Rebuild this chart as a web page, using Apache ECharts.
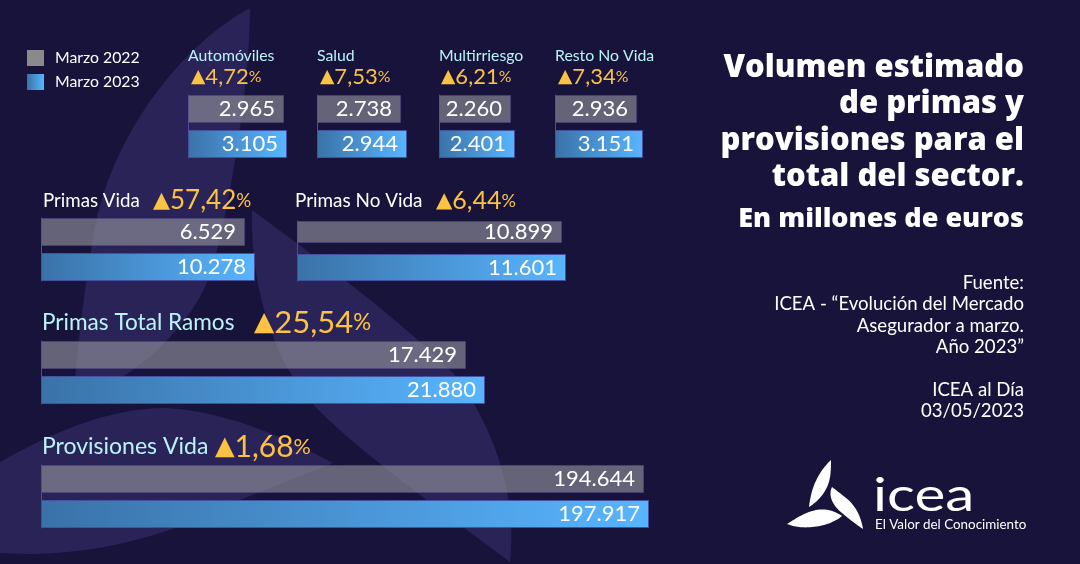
<!DOCTYPE html>
<html>
<head>
<meta charset="utf-8">
<title>Volumen estimado de primas y provisiones</title>
<script src="https://cdn.jsdelivr.net/npm/echarts@6/dist/echarts.min.js"></script>
<style>
html, body { margin: 0; padding: 0; background: #18133a; }
#main { width: 1080px; height: 564px; }
</style>
</head>
<body>
<div id="main"></div>
<script>
// data
const categories = ['Automóviles', 'Salud', 'Multirriesgo', 'Resto No Vida', 'Primas Vida', 'Primas No Vida', 'Primas Total Ramos', 'Provisiones Vida'];
const marzo2022 = [2965, 2738, 2260, 2936, 6529, 10899, 17429, 194644];
const marzo2023 = [3105, 2944, 2401, 3151, 10278, 11601, 21880, 197917];
const variacion = ['4,72', '7,53', '6,21', '7,34', '57,42', '6,44', '25,54', '1,68'];
const seriesNames = ['Marzo 2022', 'Marzo 2023'];

const titleLines = ['Volumen estimado', 'de primas y', 'provisiones para el', 'total del sector.'];
const subtitle = 'En millones de euros';
const sourceLines = ['Fuente:', 'ICEA - “Evolución del Mercado', 'Asegurador a marzo.', 'Año 2023”', '', 'ICEA al Día', '03/05/2023'];

// the source bars are not drawn from zero, every panel has its own axis start
const axisStart = [-1515, -146, -278, 0, -69951, -35609, -82129, -200080];

// panel placement: grid box, bar heights, header text
const panels = [
    { left: 188, top: 95, width: 99, height: 63, bars: [28, 28], gap: 7, nameX: 188, nameY: 56, nameSize: 15.8, nameColor: '#b9f4fa', upX: 191, upY: 77, upSize: 22 },
    { left: 317, top: 95, width: 90, height: 63, bars: [28, 28], gap: 7, nameX: 317, nameY: 56, nameSize: 15.8, nameColor: '#b9f4fa', upX: 320, upY: 77, upSize: 22 },
    { left: 439, top: 95, width: 76, height: 63, bars: [28, 28], gap: 7, nameX: 439, nameY: 56, nameSize: 15.8, nameColor: '#b9f4fa', upX: 441, upY: 77, upSize: 22 },
    { left: 555, top: 95, width: 88, height: 63, bars: [28, 28], gap: 7, nameX: 555, nameY: 56, nameSize: 15.8, nameColor: '#b9f4fa', upX: 558, upY: 77, upSize: 22 },
    { left: 41, top: 218, width: 214, height: 63, bars: [28, 28], gap: 7, nameX: 43, nameY: 201, nameSize: 18.7, nameColor: '#ffffff', upX: 153, upY: 201, upSize: 26 },
    { left: 297, top: 221, width: 269, height: 60, bars: [22, 27], gap: 11, nameX: 295, nameY: 201, nameSize: 18.9, nameColor: '#ffffff', upX: 436, upY: 201, upSize: 25 },
    { left: 41, top: 341, width: 444, height: 63, bars: [28, 28], gap: 7, nameX: 42, nameY: 323, nameSize: 22.6, nameColor: '#b9f4fa', upX: 254, upY: 323, upSize: 31 },
    { left: 41, top: 465, width: 608, height: 63, bars: [28, 28], gap: 7, nameX: 42, nameY: 447, nameSize: 23, nameColor: '#b9f4fa', upX: 215, upY: 447, upSize: 30 }
];

const FONT = 'Lato';
const GRAY = 'rgba(154,154,160,0.6)';
const BLUE = {
    type: 'linear', x: 0, y: 0, x2: 1, y2: 0,
    colorStops: [{ offset: 0, color: '#3a72a8' }, { offset: 1, color: '#58b5ff' }]
};

// 17429 -> 17.429
function miles(v) {
    return String(v).replace(/\B(?=(\d{3})+$)/g, '.');
}

// plain bars always start at value 0, these start at the panel's axis min
function barRenderer(i, k) {
    const p = panels[i];
    return function (params, api) {
        const end = api.coord([api.value(0), 0]);
        const start = api.coord([axisStart[i], 0]);
        const total = p.bars[0] + p.gap + p.bars[1];
        const y = end[1] - total / 2 + (k ? p.bars[0] + p.gap : 0);
        return {
            type: 'group',
            children: [{
                type: 'rect',
                shape: { x: Math.round(start[0]) + 0.5, y: Math.round(y) + 0.5, width: Math.round(end[0] - start[0]) - 1, height: p.bars[k] - 1 },
                style: {
                    fill: k ? BLUE : GRAY,
                    stroke: k ? '#4550a0' : 'rgba(80,70,130,0.6)',
                    lineWidth: 1
                }
            }, {
                type: 'text',
                x: end[0] - 9, y: y + p.bars[k] / 2,
                style: {
                    text: miles(api.value(0)), fill: '#ffffff', align: 'right', verticalAlign: 'middle',
                    font: '22px ' + FONT
                }
            }]
        };
    };
}

const grids = [], xAxes = [], yAxes = [], series = [];
panels.forEach(function (p, i) {
    grids.push({ left: p.left, top: p.top, width: p.width, height: p.height, containLabel: false });
    xAxes.push({ gridIndex: i, type: 'value', show: false, min: axisStart[i], max: marzo2023[i] });
    yAxes.push({
        gridIndex: i, type: 'category', inverse: true, data: [categories[i]],
        axisLine: { show: true, onZero: false, lineStyle: { color: '#5a45a0', width: 1 } },
        axisTick: { show: false }, axisLabel: { show: false }, splitLine: { show: false }
    });
    [marzo2022, marzo2023].forEach(function (values, k) {
        series.push({
            name: seriesNames[k], type: 'custom', xAxisIndex: i, yAxisIndex: i,
            data: [[values[i], categories[i]]], encode: { x: 0, y: 1 },
            renderItem: barRenderer(i, k), silent: true, animation: false, clip: false
        });
    });
});

// background petals, outlines as M + cubic segments
const petals = [
    [250, 8, 190, 40, 120, 120, 97, 217, 85, 280, 78, 340, 73, 403, 130, 380, 185, 335, 208, 280, 225, 235, 250, 90, 250, 8],
    [252, 210, 250, 280, 270, 355, 312, 403, 350, 445, 440, 510, 510, 562, 518, 490, 490, 420, 453, 373, 400, 320, 320, 260, 252, 210],
    [-30, 480, 50, 430, 110, 408, 167, 408, 230, 412, 290, 440, 333, 463, 290, 480, 260, 492, 240, 500, 170, 535, 80, 565, -30, 550]
];
// logo petals
const logo = [
    [831, 460, 818, 472, 811, 488, 809, 507, 820, 500, 828, 490, 830, 477, 831, 471, 831, 465, 831, 460],
    [832, 487, 828, 495, 832, 505, 842, 513, 849, 519, 857, 525, 863, 529, 861, 516, 855, 505, 846, 498, 841, 494, 836, 490, 832, 487],
    [787, 524, 798, 517, 806, 512, 816, 510, 826, 508, 835, 511, 842, 516, 835, 522, 824, 526, 812, 527, 803, 528, 795, 527, 787, 524]
];

// graphic has no path element, so the outlines go in as polygons
function outline(c) {
    const pts = [[c[0], c[1]]];
    for (let i = 2; i + 5 < c.length; i += 6) {
        for (let s = 1; s <= 16; s++) {
            const t = s / 16, u = 1 - t;
            pts.push([
                u * u * u * c[i - 2] + 3 * u * u * t * c[i] + 3 * u * t * t * c[i + 2] + t * t * t * c[i + 4],
                u * u * u * c[i - 1] + 3 * u * u * t * c[i + 1] + 3 * u * t * t * c[i + 3] + t * t * t * c[i + 5]
            ]);
        }
    }
    return pts;
}

const graphic = [];
petals.forEach(function (c) {
    graphic.push({ type: 'polygon', z: 0, silent: true, shape: { points: outline(c) }, style: { fill: '#2a2358' } });
});
logo.forEach(function (c) {
    graphic.push({ type: 'polygon', z: 10, silent: true, shape: { points: outline(c) }, style: { fill: '#ffffff' } });
});

function addText(x, y, text, size, color, align, weight, family, rich, scaleX) {
    graphic.push({
        type: 'text', z: 10, silent: true, x: x, y: y, scaleX: scaleX || 1,
        style: {
            text: text, fill: color, align: align || 'left', verticalAlign: 'middle',
            font: (weight || 'normal') + ' ' + size + 'px ' + (family || FONT), rich: rich
        }
    });
}

// panel headers
panels.forEach(function (p, i) {
    addText(p.nameX, p.nameY, categories[i], p.nameSize, p.nameColor);
    addText(p.upX, p.upY, '{t|▲}{n|' + variacion[i] + '}{p|%}', p.upSize, '#fcc243', 'left', 'normal', FONT, {
        t: { fontFamily: 'DejaVu Sans', fontSize: p.upSize * 0.85, fill: '#fcc243', color: '#fcc243' },
        n: { fontFamily: FONT, fontSize: p.upSize, fill: '#fcc243', color: '#fcc243' },
        p: { fontFamily: FONT, fontSize: p.upSize * 0.72, fill: '#fcc243', color: '#fcc243' }
    });
});

// right column
titleLines.forEach(function (line, i) {
    addText(1024, 68 + i * 36.4, line, 31, '#ffffff', 'right', '800', 'Open Sans');
});
addText(1024, 219, subtitle, 27, '#ffffff', 'right', '800', 'Open Sans');
sourceLines.forEach(function (line, i) {
    addText(1024, 283 + i * 21.3, line, 18.6, '#ffffff', 'right');
});
addText(873, 496, 'icea', 46, '#ffffff', 'left', 'normal', FONT, undefined, 1.27);
addText(875, 525, 'El Valor del Conocimiento', 13.4, '#ffffff');

const chart = echarts.init(document.getElementById('main'), null, { renderer: 'canvas' });
chart.setOption({
    animation: false,
    backgroundColor: '#18133a',
    legend: {
        left: 22, top: 45, orient: 'vertical', icon: 'rect', itemWidth: 17, itemHeight: 16, itemGap: 8, selectedMode: false,
        data: [
            { name: seriesNames[0], itemStyle: { color: '#8a8a8c', borderWidth: 0 } },
            { name: seriesNames[1], itemStyle: { color: BLUE, borderWidth: 0 } }
        ],
        textStyle: { color: '#ffffff', fontFamily: FONT, fontSize: 15.8, padding: [0, 0, 0, 6] }
    },
    grid: grids,
    xAxis: xAxes,
    yAxis: yAxes,
    series: series,
    graphic: graphic
});
</script>
</body>
</html>
